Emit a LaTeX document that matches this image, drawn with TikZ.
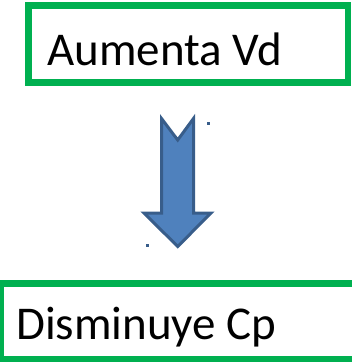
\documentclass[tikz,border=0pt]{standalone}
\usepackage{fontspec}
\setmainfont{Carlito}
\definecolor{boxgreen}{HTML}{00B050}
\definecolor{arrowfill}{HTML}{4F81BD}
\definecolor{arrowline}{HTML}{385D8A}
\begin{document}
\begin{tikzpicture}[x=1pt,y=-1pt,
  greenbox/.style={draw=boxgreen,line width=6.5pt},
  label/.style={anchor=base west,inner sep=0pt,font=\fontsize{47}{56}\selectfont},
  handle/.style={fill=arrowline,draw=none}]
\useasboundingbox (0,0) rectangle (351,364);
\draw[greenbox] (28.5,5.5) rectangle (348,82.5);
\node[label] (top) at (47,65) {Aumenta Vd};
\draw[greenbox] (1,283.5) rectangle (356,359);
\node[label] (bot) at (16,339) {Disminuye Cp};
\draw[fill=arrowfill,draw=arrowline,line width=3pt,line join=miter]
  (161.5,118.5) -- (177.7,140) -- (193.5,118.5) -- (193.5,213) -- (211,213)
  -- (177.7,246.5) -- (144,213) -- (161.5,213) -- cycle;
\fill[handle] (206.5,121.5) rectangle (209.5,124.5);
\fill[handle] (146,243.5) rectangle (149,246.5);
\end{tikzpicture}
\end{document}
